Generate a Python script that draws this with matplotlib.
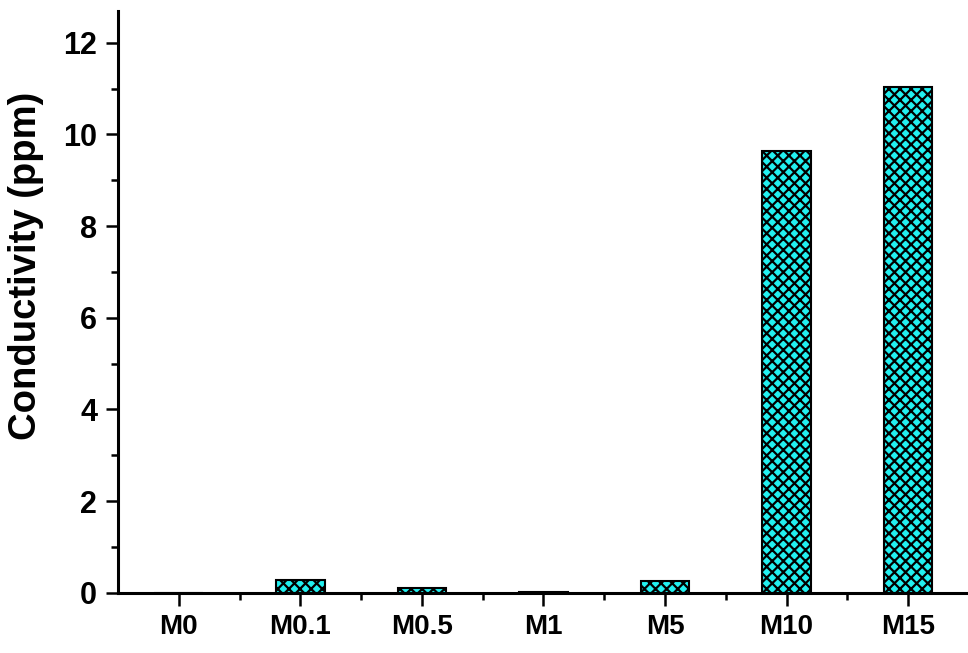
import numpy as np
import matplotlib
matplotlib.use("Agg")
from matplotlib import pyplot as plt
from matplotlib.ticker import MultipleLocator

samples = ["M0", "M0.1", "M0.5", "M1", "M5", "M10", "M15"]
conductivity = [0.0, 0.27, 0.11, 0.02, 0.26, 9.64, 11.04]

plt.rcParams['font.family'] = ['Liberation Sans', 'DejaVu Sans']
plt.rcParams['font.weight'] = 'bold'
plt.rcParams['hatch.linewidth'] = 1.6
plt.rcParams['hatch.color'] = 'black'

fig = plt.figure(figsize=(9.68, 6.53), dpi=100)
ax = fig.add_axes([0.1219, 0.0923, 0.879, 0.8907])

x = np.arange(len(samples))
ax.bar(x, conductivity, width=0.4, color='#22F0F0', edgecolor='black',
       linewidth=1.5, hatch='xxx')

ax.set_xlim(-0.5, 6.5)
ax.set_ylim(0, 12.69)
ax.set_xticks(x)
ax.set_xticklabels(samples)
ax.xaxis.set_minor_locator(plt.FixedLocator(x[:-1] + 0.5))
ax.yaxis.set_major_locator(MultipleLocator(2))
ax.yaxis.set_minor_locator(MultipleLocator(1))

for s in ['top', 'right']:
    ax.spines[s].set_visible(False)
for s in ['left', 'bottom']:
    ax.spines[s].set_linewidth(2.2)

ax.tick_params(which='major', length=9, width=1.8, pad=6)
ax.tick_params(axis='x', labelsize=20)
ax.tick_params(axis='y', labelsize=22)
ax.tick_params(which='minor', length=5, width=1.8)
for lab in ax.get_xticklabels() + ax.get_yticklabels():
    lab.set_fontweight('bold')

ax.set_ylabel('Conductivity (ppm)', fontsize=27.5, fontweight='bold')
ax.yaxis.set_label_coords(-0.087, 0.562)

fig.savefig('out.png', dpi=100)
